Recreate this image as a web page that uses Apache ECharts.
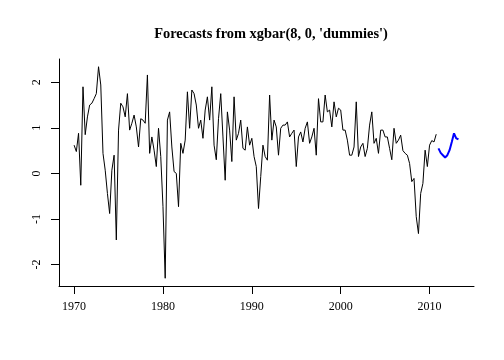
<!DOCTYPE html>
<html>
<head>
<meta charset="utf-8">
<script src="https://cdn.jsdelivr.net/npm/echarts@6/dist/echarts.min.js"></script>
<style>
html,body{margin:0;padding:0;background:#fff;}
#chart{width:504px;height:360px;}
</style>
</head>
<body>
<div id="chart"></div>
<script>
const titleText = "Forecasts from xgbar(8, 0, 'dummies')";
const startYear = 1970;
const frequency = 4;
const observed = [
  0.62, 0.48, 0.88, -0.26,
  1.9, 0.85, 1.24, 1.5,
  1.54, 1.64, 1.75, 2.34,
  1.94, 0.44, 0.07, -0.44,
  -0.88, 0.07, 0.4, -1.46,
  0.95, 1.54, 1.46, 1.24,
  1.75, 0.95, 1.1, 1.28,
  1.02, 0.58, 1.2, 1.17,
  1.1, 2.16, 0.44, 0.8,
  0.51, 0.15, 0.99, 0.37,
  -0.73, -2.3, 1.17, 1.35,
  0.58, 0.04, 0.0, -0.73,
  0.66, 0.44, 0.73, 1.79,
  0.99, 1.83, 1.75, 1.5,
  0.99, 1.17, 0.77, 1.39,
  1.68, 1.17, 1.9, 0.62,
  0.3, 1.2, 1.75, 0.8,
  -0.15, 1.35, 0.95, 0.26,
  1.68, 0.73, 0.88, 1.17,
  0.55, 0.51, 1.02, 0.62,
  0.77, 0.37, 0.15, -0.77,
  -0.07, 0.62, 0.37, 0.29,
  1.72, 0.73, 1.17, 1.02,
  0.4, 0.99, 1.06, 1.06,
  1.13, 0.8, 0.88, 0.95,
  0.15, 0.8, 0.91, 0.69,
  0.99, 1.13, 0.66, 0.8,
  0.99, 0.4, 1.64, 1.13,
  1.13, 1.72, 1.35, 1.39,
  1.02, 1.57, 1.24, 1.43,
  1.39, 0.95, 0.95, 0.73,
  0.4, 0.4, 0.58, 1.57,
  0.37, 0.58, 0.66, 0.37,
  0.55, 1.06, 1.35, 0.66,
  0.77, 0.44, 0.95, 0.95,
  0.8, 0.8, 0.55, 0.3,
  0.99, 0.66, 0.73, 0.84,
  0.5, 0.44, 0.4, 0.22,
  -0.18, -0.11, -0.95, -1.32,
  -0.44, -0.22, 0.51, 0.15,
  0.62, 0.72, 0.69, 0.86
];
const forecastStart = 2011;
const forecast = [0.55, 0.45, 0.4, 0.35, 0.4, 0.51, 0.69, 0.88, 0.77, 0.75];
const xTicks = [1970, 1980, 1990, 2000, 2010];
const yTicks = [-2, -1, 0, 1, 2];

const obsData = observed.map((v, i) => [startYear + i / frequency, v]);
const fcData = forecast.map((v, i) => [forecastStart + i / frequency, v]);

const font = '"Liberation Serif", "Times New Roman", serif';
const chart = echarts.init(document.getElementById('chart'), null, {renderer: 'canvas'});
chart.setOption({
  animation: false,
  backgroundColor: '#ffffff',
  title: {
    text: titleText,
    left: 266, top: 22, textAlign: 'center',
    textStyle: {fontFamily: font, fontWeight: 'bold', fontSize: 14.4, color: '#000'}
  },
  grid: {left: 59, right: 30, top: 59, bottom: 74, containLabel: false},
  xAxis: {
    type: 'value', min: 1968.3, max: 2015.0,
    axisLine: {show: true, onZero: false, lineStyle: {color: '#000', width: 1}},
    axisTick: {show: true, length: 8, inside: false, customValues: xTicks, lineStyle: {color: '#000'}},
    axisLabel: {show: true, customValues: xTicks, margin: 15, color: '#000', fontFamily: font, fontSize: 12,
      formatter: (v) => String(Math.round(v))},
    splitLine: {show: false}
  },
  yAxis: {
    type: 'value', min: -2.47, max: 2.51,
    axisLine: {show: true, onZero: false, lineStyle: {color: '#000', width: 1}},
    axisTick: {show: true, length: 8, inside: false, customValues: yTicks, lineStyle: {color: '#000'}},
    axisLabel: {show: true, customValues: yTicks, rotate: 90, margin: 16, color: '#000', fontFamily: font, fontSize: 12,
      formatter: (v) => String(Math.round(v))},
    splitLine: {show: false}
  },
  series: [
    {type: 'line', data: obsData, showSymbol: false, lineStyle: {color: '#000', width: 1}, itemStyle: {color: '#000'}},
    {type: 'line', data: fcData, showSymbol: false, lineStyle: {color: '#0000ff', width: 2}, itemStyle: {color: '#0000ff'}}
  ]
});
</script>
</body>
</html>
